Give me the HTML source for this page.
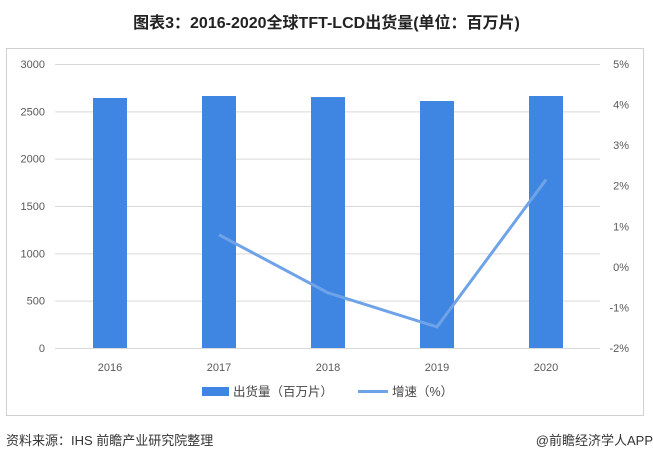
<!DOCTYPE html>
<html><head><meta charset="utf-8"><style>
body{margin:0;width:653px;height:462px;background:#fff;font-family:"Liberation Sans","Noto Sans CJK SC",sans-serif;overflow:hidden;position:relative}
.t{position:absolute}
</style></head><body>
<div class="t" style="left:0;width:653px;top:9px;text-align:center;font-size:16px;font-weight:bold;color:#222;font-family:'Liberation Sans','Noto Sans CJK SC',sans-serif">图表3：2016-2020全球TFT-LCD出货量(单位：百万片)</div>
<div class="t" style="left:6px;top:48px;width:638px;height:368px;border:1px solid #d0d0d0;box-sizing:border-box"></div>
<svg class="t" style="left:0;top:0" width="653" height="462">
<g id="grid"></g><g id="bars"></g><g id="line"></g><g id="labels"></g>
<rect x="202" y="387" width="27" height="9" fill="#3f86e3"/>
<text x="233" y="396" font-size="12.5" fill="#444">出货量（百万片）</text>
<line x1="358" y1="391.5" x2="388" y2="391.5" stroke="#6fa3e8" stroke-width="3"/>
<text x="392" y="396" font-size="12.5" fill="#444">增速（%）</text>
<text x="6" y="445" font-size="13" fill="#333">资料来源：IHS 前瞻产业研究院整理</text>
<text x="653" y="445" font-size="13" fill="#333" text-anchor="end">@前瞻经济学人APP</text>
</svg>
<script>
const years=["2016","2017","2018","2019","2020"];
const shipments=[2641,2662,2651,2609,2662];
const growthYears=["2017","2018","2019","2020"];
const growth=[0.79,-0.64,-1.48,2.15];
const leftTicks=[0,500,1000,1500,2000,2500,3000];
const rightTicks=[-2,-1,0,1,2,3,4,5];
const NS="http://www.w3.org/2000/svg";
const y0=348,yTop=64,x0=55,x1=600;
const yL=v=>y0-(v/3000)*(y0-yTop);
const yR=v=>y0-((v+2)/7)*(y0-yTop);
const xC=i=>110+i*109;
function mk(tag,attrs,parent){const e=document.createElementNS(NS,tag);for(const k in attrs)e.setAttribute(k,attrs[k]);document.getElementById(parent).appendChild(e);return e;}
leftTicks.forEach(v=>{
 const g=mk('line',{x1:x0,x2:x1,y1:yL(v)+0.5,y2:yL(v)+0.5,stroke:'#d9d9d9','stroke-width':1},'grid');
 
 
 const t=mk('text',{x:45,y:yL(v)+4,'font-size':11,fill:'#595959','text-anchor':'end'},'labels');
 t.textContent=v;
 
 
});
rightTicks.forEach(v=>{
 const t=mk('text',{x:629,y:yR(v)+4,'font-size':11,fill:'#595959','text-anchor':'end'},'labels');
 t.textContent=v+'%';
 
 
});
years.forEach((y,i)=>{
 const b=mk('rect',{x:xC(i)-17,y:yL(shipments[i]),width:34,height:y0-yL(shipments[i]),fill:'#3f86e3'},'bars');
 
 
 const t=mk('text',{x:xC(i),y:371,'font-size':11,fill:'#595959','text-anchor':'middle'},'labels');
 t.textContent=y;
 
 
});
const pts=growthYears.map((y,i)=>xC(years.indexOf(y))+','+yR(growth[i])).join(' ');
const pl=mk('polyline',{points:pts,fill:'none',stroke:'#6fa3e8','stroke-width':3,'stroke-linejoin':'miter'},'line');


</script>
</body></html>
